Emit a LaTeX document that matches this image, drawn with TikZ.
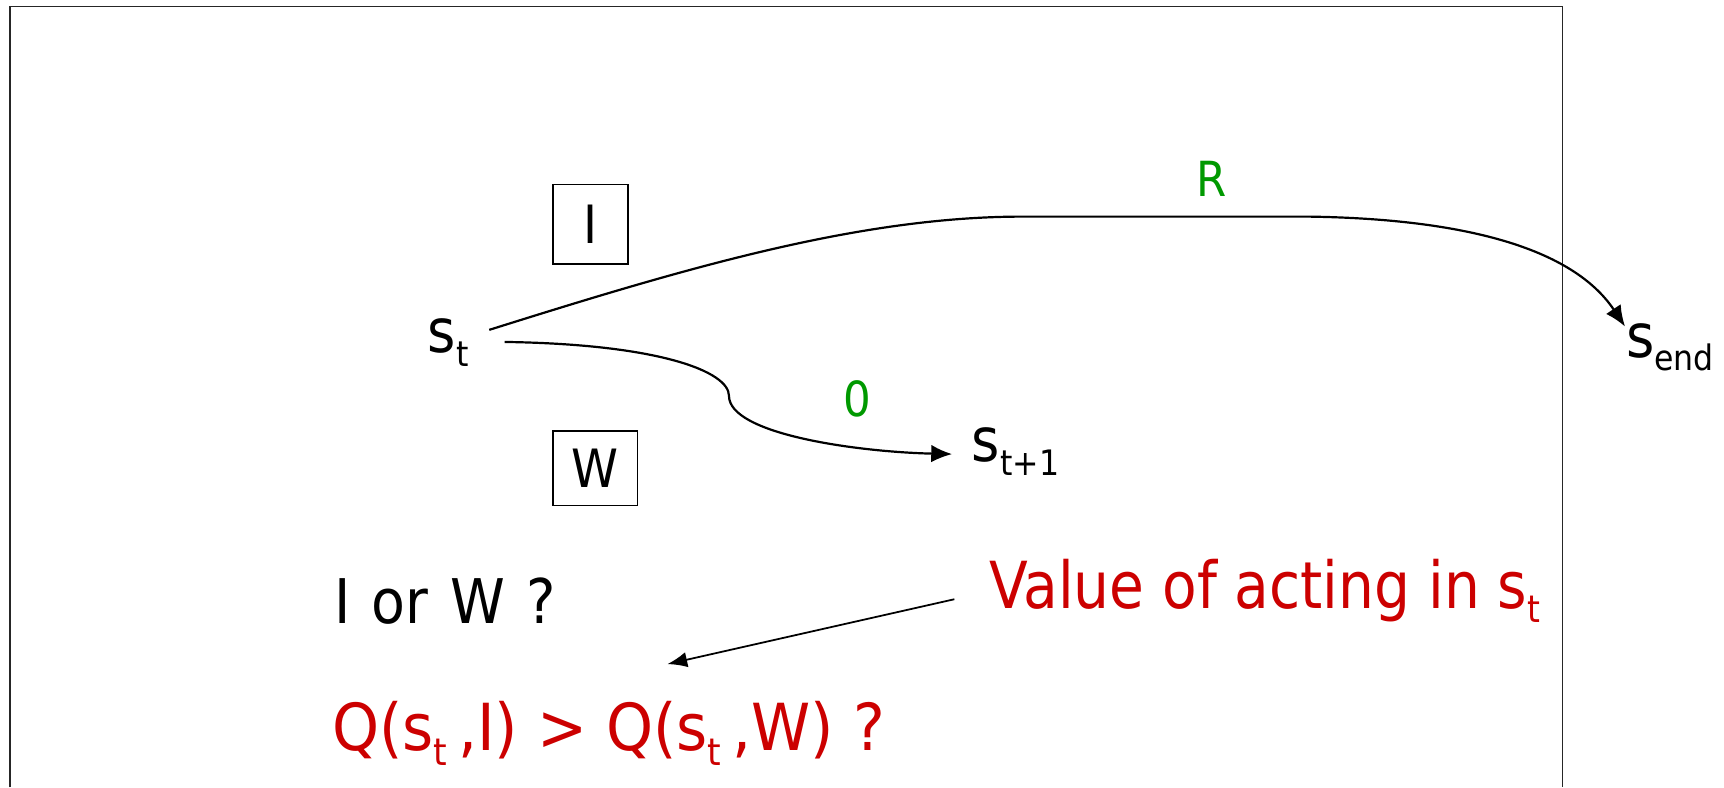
\documentclass[tikz,border=0pt]{standalone}
\usepackage{fontspec}
\usepackage{graphicx}
\setmainfont{DejaVu Sans Condensed}
\usetikzlibrary{arrows.meta}
\definecolor{lblgreen}{RGB}{0,153,0}
\definecolor{lblred}{RGB}{204,0,0}
\newcommand\subx[1]{\raisebox{-0.22em}{\scalebox{0.58}{#1}}}
\newcommand\wsp{\hspace{19.5pt}}
\begin{document}
\begin{tikzpicture}[x=1pt,y=-1pt,
  txt/.style={inner sep=0pt,outer sep=0pt,anchor=base west},
  plain/.style={txt,font=\fontsize{56}{60}\selectfont},
  big/.style={txt,text=lblred,font=\fontsize{59}{64}\selectfont},
  state/.style={txt,font=\fontsize{55}{60}\selectfont},
  actbox/.style={draw,line width=1.3pt,inner sep=0pt,font=\fontsize{48}{52}\selectfont},
  reward/.style={inner sep=0pt,text=lblgreen,font=\fontsize{44}{48}\selectfont},
  conn/.style={line width=2pt,-{Latex[length=19pt,width=16pt]}}]
\useasboundingbox (0,0) rectangle (1568,716);
\draw[line width=1.3pt,black!85] (9,716) -- (9,6) -- (1421,6) -- (1421,716);
% nodes
\node[state] (st) at (389,321) {s\subx{t}};
\node[state] (st1) at (884,420) {s\subx{t+1}};
\node[state] (send) at (1479,325) {s\subx{end}};
\node[actbox,minimum width=68pt,minimum height=72pt] (bI) at (537,204) {I};
\node[actbox,minimum width=77pt,minimum height=68pt] (bW) at (541.5,426) {W};
\node[reward] (R) at (1102,163) {R};
\node[reward] (zero) at (780,363) {0};
\node[plain] (q1) at (304,567) {I\wsp or\wsp W\wsp ?};
\node[big] (val) at (900,553) {\scalebox{0.97}[1]{Value of acting in s\subx{t}}};
\node[big] (q2) at (302,683) {\scalebox{1.025}[1]{Q(s\subx{t}\,,I) > Q(s\subx{t}\,,W) ?}};
% connector ends
\coordinate (upS) at (445,300);
\coordinate (upE) at (1478,297);
\coordinate (loS) at (459,311);
\coordinate (loE) at (866,413);
\coordinate (vS) at (868,545);
\coordinate (vE) at (607,604);
% connectors
\draw[conn] (upS) .. controls (620,245) and (780,197) .. (930,197)
  -- (1190,197) .. controls (1330,199) and (1430,225) .. (upE);
\draw[conn] (loS) .. controls (600,313) and (663,338) .. (663,360)
  .. controls (663,395) and (780,411) .. (loE);
\draw[line width=1.6pt,-{Latex[length=18pt,width=14pt]}] (vS) -- (vE);
\end{tikzpicture}
\end{document}
